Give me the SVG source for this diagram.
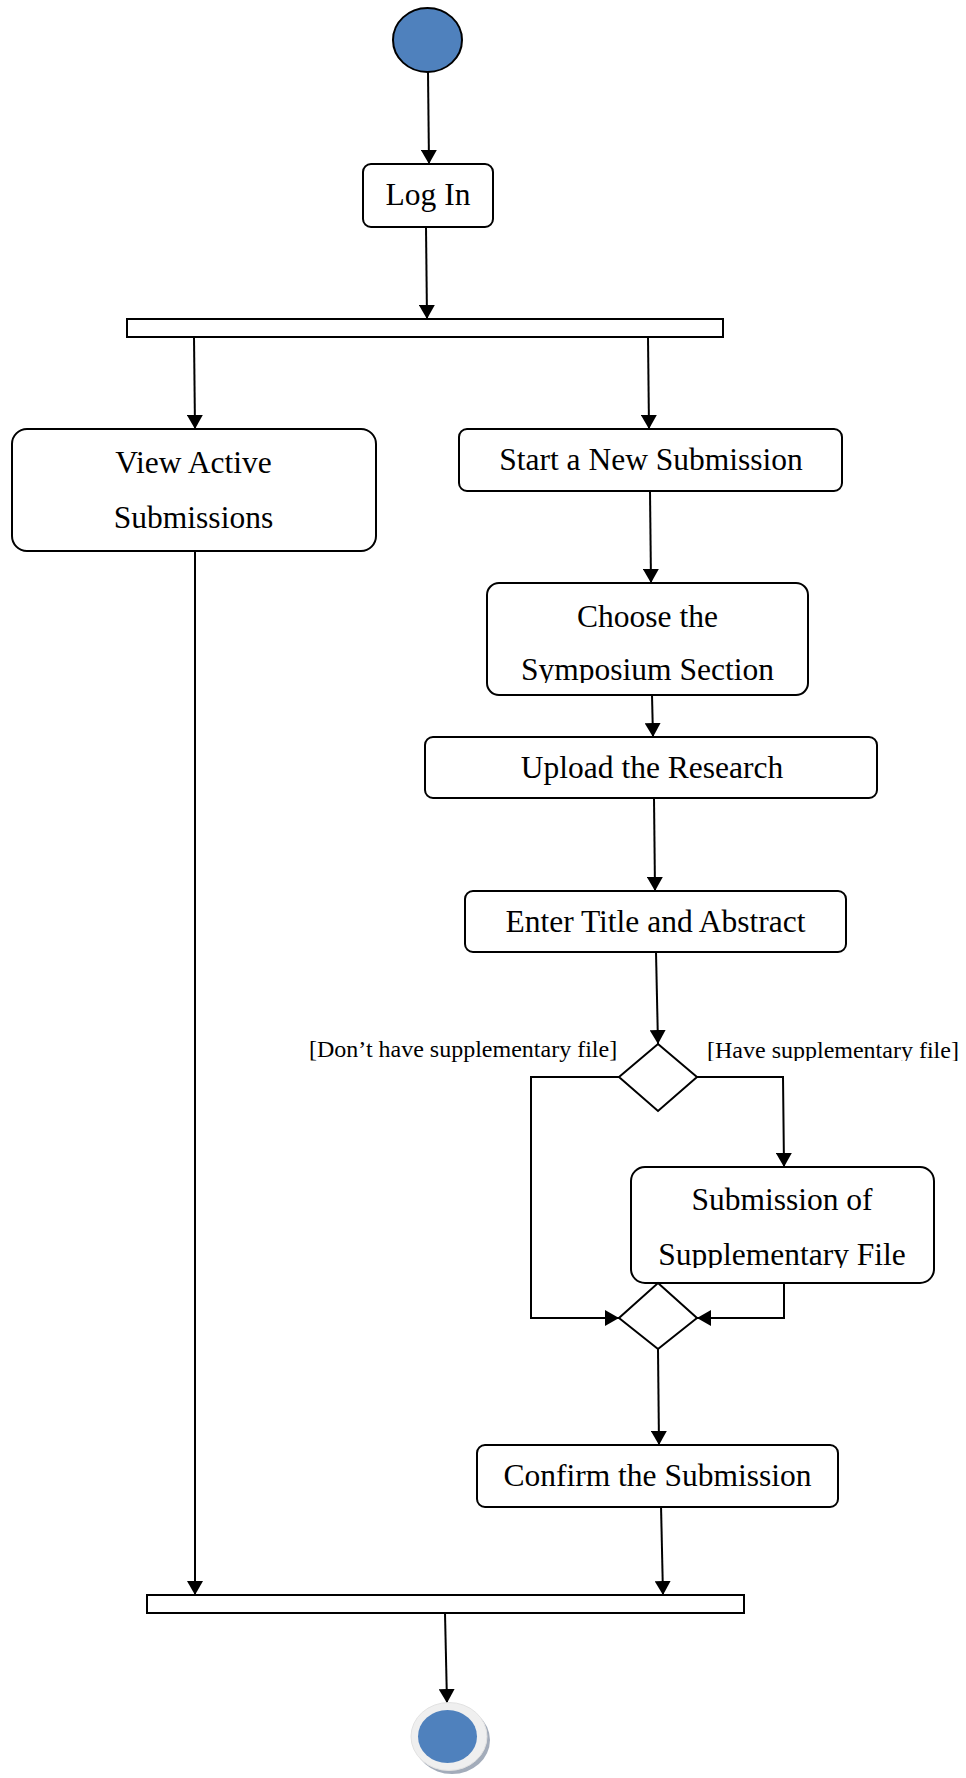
<svg xmlns="http://www.w3.org/2000/svg" width="966" height="1778" viewBox="0 0 966 1778">
  <defs>
    <style>
      .box { fill: #ffffff; stroke: #000000; stroke-width: 2; }
      .bar { fill: #ffffff; stroke: #000000; stroke-width: 2; }
      .dec { fill: #ffffff; stroke: #000000; stroke-width: 2; }
      .lbl { font-family: "Liberation Serif", "Times New Roman", serif; font-size: 31.5px; fill: #000000; text-anchor: middle; }
      .guard { font-family: "Liberation Serif", "Times New Roman", serif; font-size: 24px; fill: #000000; }
      .flow { fill: none; stroke: #000000; stroke-width: 2; marker-end: url(#arrow); }
      .plain { fill: none; stroke: #000000; stroke-width: 2; }
    </style>
    <marker id="arrow" markerUnits="userSpaceOnUse" markerWidth="15" markerHeight="16" refX="14" refY="8" orient="auto">
      <path d="M0,0 L14,8 L0,16 z" fill="#000000"/>
    </marker>
    <clipPath id="clipChoose"><rect x="487" y="583" width="321" height="100"/></clipPath>
    <clipPath id="clipSupp"><rect x="631" y="1167" width="303" height="101"/></clipPath>
    <clipPath id="clipHave"><rect x="700" y="1030" width="266" height="31"/></clipPath>
  </defs>
  <rect x="0" y="0" width="966" height="1778" fill="#ffffff"/>

  <!-- connectors -->
  <g id="connectors">
    <line class="flow" x1="428" y1="72" x2="429" y2="164"/>
    <line class="flow" x1="426" y1="227" x2="427" y2="319"/>
    <line class="flow" x1="194" y1="337" x2="195" y2="429"/>
    <line class="flow" x1="648" y1="337" x2="649" y2="429"/>
    <line class="flow" x1="650" y1="491" x2="651" y2="583"/>
    <line class="flow" x1="652" y1="695" x2="653" y2="737"/>
    <line class="flow" x1="654" y1="798" x2="655" y2="891"/>
    <line class="flow" x1="656" y1="952" x2="658" y2="1044"/>
    <polyline class="flow" points="619,1077 531,1077 531,1318 619,1318"/>
    <polyline class="flow" points="697,1077 783,1077 784,1167"/>
    <polyline class="flow" points="784,1283 784,1318 697,1318"/>
    <line class="flow" x1="658" y1="1349" x2="659" y2="1445"/>
    <line class="flow" x1="661" y1="1505" x2="663" y2="1595"/>
    <line class="flow" x1="195" y1="551" x2="195" y2="1595"/>
    <line class="flow" x1="445" y1="1613" x2="447" y2="1703"/>
  </g>

  <!-- start node -->
  <g id="start">
    <ellipse cx="427.5" cy="40" rx="34.5" ry="32" fill="#4f81bd" stroke="#000000" stroke-width="2"/>
  </g>

  <g id="login">
    <rect class="box" x="363" y="164" width="130" height="63" rx="8"/>
    <text class="lbl" x="428" y="205">Log In</text>
  </g>

  <g id="fork">
    <rect class="bar" x="127" y="319" width="596" height="18"/>
  </g>

  <g id="view-active">
    <rect class="box" x="12" y="429" width="364" height="122" rx="15"/>
    <text class="lbl" x="193.5" y="473">View Active</text>
    <text class="lbl" x="193.5" y="528">Submissions</text>
  </g>

  <g id="start-submission">
    <rect class="box" x="459" y="429" width="383" height="62" rx="8"/>
    <text class="lbl" x="651" y="470">Start a New Submission</text>
  </g>

  <g id="choose-section">
    <rect class="box" x="487" y="583" width="321" height="112" rx="12"/>
    <g clip-path="url(#clipChoose)">
      <text class="lbl" x="647.5" y="627">Choose the</text>
      <text class="lbl" x="647.5" y="680">Symposium Section</text>
    </g>
  </g>

  <g id="upload">
    <rect class="box" x="425" y="737" width="452" height="61" rx="8"/>
    <text class="lbl" x="652" y="778">Upload the Research</text>
  </g>

  <g id="title-abstract">
    <rect class="box" x="465" y="891" width="381" height="61" rx="8"/>
    <text class="lbl" x="655.5" y="932">Enter Title and Abstract</text>
  </g>

  <g id="decision">
    <polygon class="dec" points="658,1044 697,1077 658,1111 619,1077"/>
    <text class="guard" x="309" y="1057">[Don’t have supplementary file]</text>
    <text class="guard" x="707" y="1058" clip-path="url(#clipHave)">[Have supplementary file]</text>
  </g>

  <g id="supplementary">
    <rect class="box" x="631" y="1167" width="303" height="116" rx="14"/>
    <g clip-path="url(#clipSupp)">
      <text class="lbl" x="782" y="1210">Submission of</text>
      <text class="lbl" x="782" y="1265">Supplementary File</text>
    </g>
  </g>

  <g id="merge">
    <polygon class="dec" points="658,1283 697,1318 658,1349 619,1318"/>
  </g>

  <g id="confirm">
    <rect class="box" x="477" y="1445" width="361" height="62" rx="8"/>
    <text class="lbl" x="657.5" y="1486">Confirm the Submission</text>
  </g>

  <g id="join">
    <rect class="bar" x="147" y="1595" width="597" height="18"/>
  </g>

  <!-- final node -->
  <g id="end">
    <ellipse cx="452" cy="1740" rx="38" ry="34" fill="#a3acba"/>
    <ellipse cx="449" cy="1736.5" rx="38" ry="34" fill="#efefef" stroke="#e2e2e2" stroke-width="1"/>
    <ellipse cx="447.5" cy="1736.5" rx="29.5" ry="26.5" fill="#4f81bd"/>
  </g>
</svg>
